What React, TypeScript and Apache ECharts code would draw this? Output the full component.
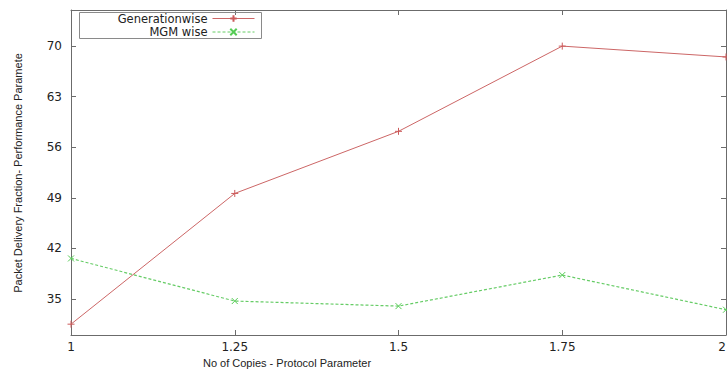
import React, { useEffect, useRef } from "react";
import * as echarts from "echarts";

const copies = [1, 1.25, 1.5, 1.75, 2];
const generationwise = [31.5, 49.6, 58.2, 70.0, 68.5];
const mgmWise = [40.6, 34.7, 34.0, 38.3, 33.5];
const yTicks = [35, 42, 49, 56, 63, 70];
const xTicks = [1, 1.25, 1.5, 1.75, 2];
const seriesNames = ["Generationwise", "MGM wise"];

const FONT = "Liberation Sans";
const TICKFONT = "DejaVu Sans";
const AXIS = "#6b6b6b";

export default function App() {
  const ref = useRef<HTMLDivElement>(null);
  useEffect(() => {
    document.body.style.margin = "0";
    const chart = echarts.init(ref.current!, null, { renderer: "svg" });
    const xAxisBase = {
      type: "value" as const,
      min: 1,
      max: 2,
      interval: 0.25,
      splitLine: { show: false },
      axisLine: { show: true, lineStyle: { color: AXIS, width: 1 } },
      axisTick: { show: true, inside: true, length: 5, lineStyle: { color: AXIS } },
    };
    const yAxisBase = {
      type: "value" as const,
      min: 30,
      max: 75,
      splitLine: { show: false },
      axisLine: { show: true, lineStyle: { color: AXIS, width: 1 } },
      axisTick: { show: true, inside: true, length: 5, lineStyle: { color: AXIS }, customValues: yTicks },
    };
    const legendBase = {
      orient: "vertical" as const,
      align: "right" as const,
      right: 727 - 255,
      padding: 0,
      itemWidth: 42,
      itemHeight: 8,
      itemGap: 0,
      lineStyle: { width: 1 },
      textStyle: {
        fontFamily: TICKFONT,
        fontSize: 11.5,
        lineHeight: 12,
        color: "#222",
        padding: [0, 0, 0, 0],
      },
    };
    chart.setOption({
      animation: false,
      backgroundColor: "#ffffff",
      grid: {
        left: 71,
        width: 655,
        top: 10,
        bottom: 37,
        containLabel: false,
        outerBoundsMode: "none",
      },
      xAxis: [
        {
          ...xAxisBase,
          position: "bottom",
          axisLabel: {
            show: true,
            color: "#222",
            fontFamily: TICKFONT,
            fontSize: 12,
            margin: 6,
            alignMaxLabel: "right",
            customValues: xTicks,
            formatter: (v: number) => String(v),
          },
        },
        { ...xAxisBase, position: "top", axisLabel: { show: false } },
      ],
      yAxis: [
        {
          ...yAxisBase,
          position: "left",
          axisLabel: {
            show: true,
            color: "#222",
            fontFamily: TICKFONT,
            fontSize: 12,
            margin: 9,
            customValues: yTicks,
          },
        },
        { ...yAxisBase, position: "right", axisLabel: { show: false } },
      ],
      legend: [
        { ...legendBase, data: [seriesNames[0]], top: 12.5 },
        { ...legendBase, data: [seriesNames[1]], top: 26 },
      ],
      graphic: [
        {
          type: "rect",
          shape: { x: 79.5, y: 12.5, width: 182, height: 26 },
          style: { fill: "none", stroke: "#8a8a8a", lineWidth: 1 },
          z: 100,
        },
        {
          type: "text",
          x: 18,
          y: 173,
          rotation: Math.PI / 2,
          style: {
            text: "Packet Delivery Fraction- Performance Paramete",
            fontFamily: FONT,
            fontSize: 11,
            fill: "#222",
            align: "center",
            verticalAlign: "middle",
          },
        },
        {
          type: "text",
          x: 287,
          y: 363,
          style: {
            text: "No of Copies - Protocol Parameter",
            fontFamily: FONT,
            fontSize: 11,
            fill: "#222",
            align: "center",
            verticalAlign: "middle",
          },
        },
      ],
      series: [
        {
          name: seriesNames[0],
          type: "line",
          data: copies.map((c, i) => [c, generationwise[i]]),
          symbol: "path://M5 0 L5 10 M0 5 L10 5",
          symbolSize: 7,
          showSymbol: true,
          itemStyle: { color: "#cc5a5a", borderColor: "#cc5a5a", borderWidth: 1 },
          lineStyle: { color: "#cc6666", width: 1 },
        },
        {
          name: seriesNames[1],
          type: "line",
          data: copies.map((c, i) => [c, mgmWise[i]]),
          symbol: "path://M0 0 L10 10 M10 0 L0 10",
          symbolSize: 6,
          showSymbol: true,
          itemStyle: { color: "#55cc55", borderColor: "#55cc55", borderWidth: 1 },
          lineStyle: { color: "#66cc66", width: 1.2, type: [3, 2] },
        },
      ],
    });
    return () => chart.dispose();
  }, []);
  return (
    <div
      ref={ref}
      style={{ position: "fixed", left: 0, top: 0, width: 727, height: 372 }}
    />
  );
}
